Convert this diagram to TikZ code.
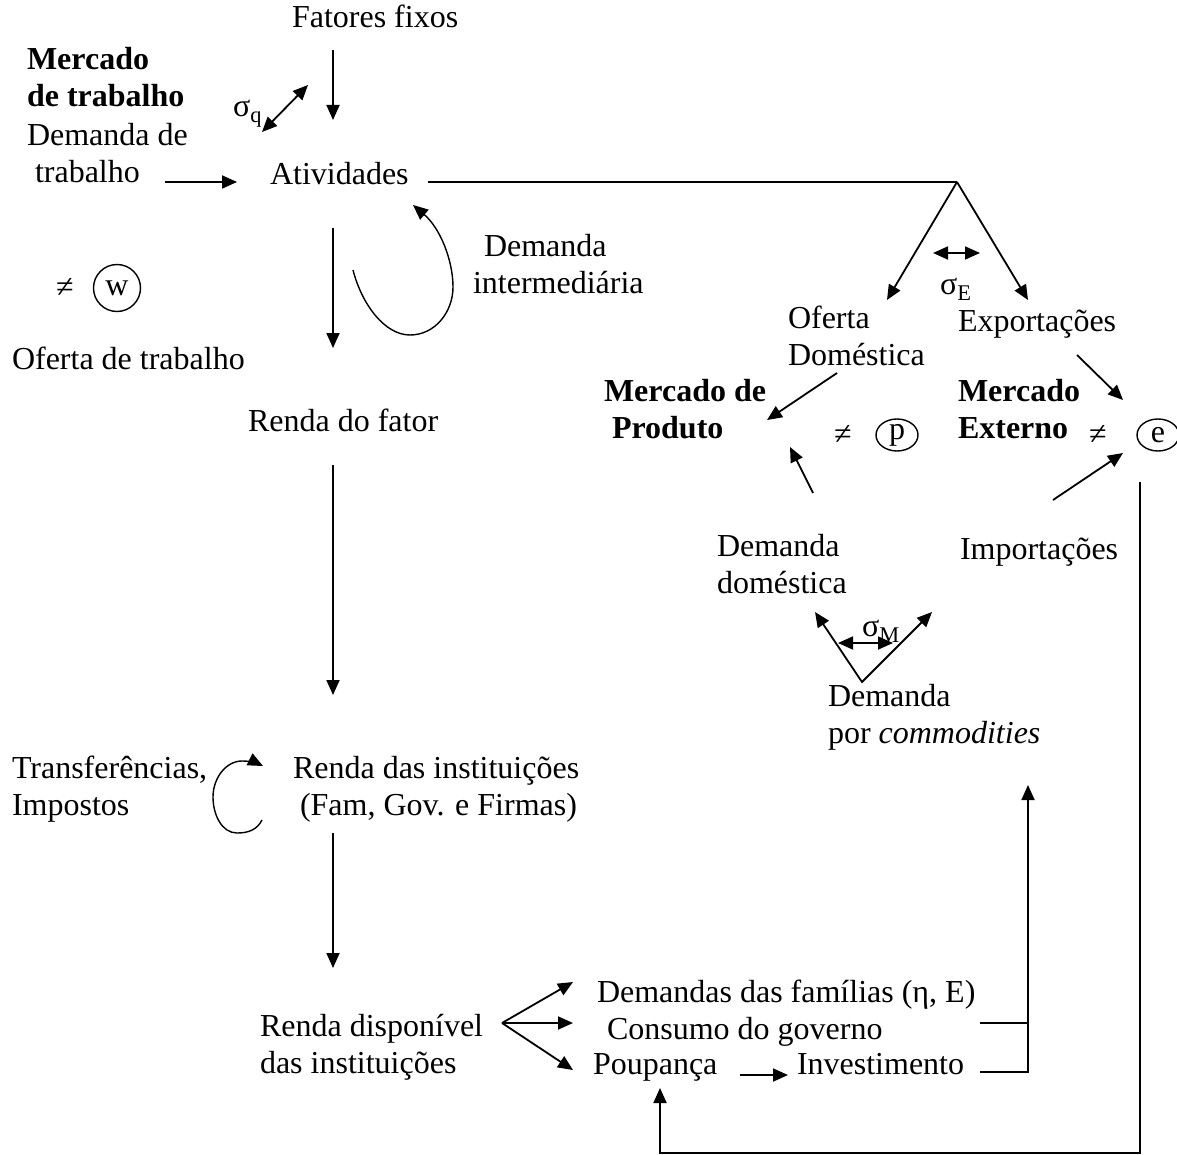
\documentclass[tikz,border=0pt]{standalone}
\usepackage{fontspec}
\setmainfont{Liberation Serif}
\usetikzlibrary{arrows.meta,shapes.geometric}
\tikzset{
	every path/.style = {line width=0.9pt},
	every node/.style = {inner sep=0pt, outer sep=0pt, font=\fontsize{16}{18.5}\selectfont},
	txt/.style = {anchor=north west, align=left, execute at begin node=\strut, execute at end node=\strut},
	circ/.style = {draw, circle, line width=0.7pt, minimum size=23.5pt},
	oval/.style = {draw, ellipse, line width=0.7pt, minimum width=21pt, minimum height=16pt},
	thinline/.style = {line width=0.7pt}
}
\begin{document}
\begin{tikzpicture}[x=0.5pt, y=-0.5pt, >={Triangle[length=7.5pt,width=6.5pt]}]
	\useasboundingbox (0,0) rectangle (1177,1155);
	\node[txt] (fixos) at (292,2) {Fatores fixos};
	\node[txt] (mtrab) at (27,47) {\textbf{Mercado}\\\textbf{de trabalho}};
	\node[txt] (dtrab) at (27,123) {Demanda de\\\hspace*{4pt}trabalho};
	\node[txt] (ativ) at (270,159) {Atividades};
	\node[txt] (sigq) at (233,91) {σ\textsubscript{q}};
	\node[txt] (dint) at (473,234) {\hspace*{5.5pt}Demanda\\intermediária};
	\node (neqw) at (65,288) {≠};
	\node[circ] (w) at (117,288) {w};
	\node[txt] (oftrab) at (12,344) {Oferta de trabalho};
	\node[txt] (rfator) at (248,406) {Renda do fator};
	\node[txt] (ofdom) at (788,306) {Oferta\\Doméstica};
	\node[txt] (export) at (958,306) {Exportações};
	\node[txt] (sigE) at (940,269) {σ\textsubscript{E}};
	\node[txt] (mprod) at (604,379) {\textbf{Mercado de}\\\hspace*{4pt}\textbf{Produto}};
	\node (neqp) at (843,435) {≠};
	\node[oval] (p) at (897,435) {p};
	\node[txt] (mext) at (958,379) {\textbf{Mercado}\\\textbf{Externo}};
	\node (neqe) at (1098,435) {≠};
	\node[oval] (e) at (1158,435) {e};
	\node[txt] (ddom) at (717,534) {Demanda\\doméstica};
	\node[txt] (import) at (960,534) {Importações};
	\node[txt] (sigM) at (862,611) {σ\textsubscript{M}};
	\node[txt] (dcom) at (828,684) {Demanda\\por \textit{commodities}};
	\node[txt] (transf) at (12,756) {Transferências,\\Impostos};
	\node[txt] (rinst) at (293,756) {Renda das instituições\\\hspace*{3.5pt}(Fam, Gov. e Firmas)};
	\node[txt] (rdisp) at (260,1014) {Renda disponível\\das instituições};
	\node[txt] (dfam) at (597,977) {Demandas das famílias (η, E)};
	\node[txt] (cgov) at (607,1014) {Consumo do governo};
	\node[txt] (poup) at (593,1049) {Poupança};
	\node[txt] (invest) at (797,1049) {Investimento};

	\coordinate (fix1) at (333,50);
	\coordinate (fix2) at (333,120);
	\coordinate (sq1) at (262,132);
	\coordinate (sq2) at (308,85);
	\coordinate (dt1) at (165,182);
	\coordinate (dt2) at (237,182);
	\coordinate (at1) at (333,228);
	\coordinate (at2) at (333,348);
	\coordinate (li1) at (353,270);
	\coordinate (li2) at (413,205);
	\coordinate (at3) at (428,182);
	\coordinate (top) at (957,182);
	\coordinate (od1) at (887,300);
	\coordinate (ex1) at (1028,300);
	\coordinate (se1) at (933,253);
	\coordinate (se2) at (980,253);
	\coordinate (od2) at (837,373);
	\coordinate (mp1) at (767,420);
	\coordinate (ex2) at (1077,355);
	\coordinate (me1) at (1123,400);
	\coordinate (im1) at (1053,500);
	\coordinate (me2) at (1123,453);
	\coordinate (dd1) at (813,493);
	\coordinate (mp2) at (790,447);
	\coordinate (vb) at (862,682);
	\coordinate (vl) at (815,612);
	\coordinate (vr) at (932,612);
	\coordinate (sm1) at (838,643);
	\coordinate (sm2) at (893,643);
	\coordinate (rf1) at (333,465);
	\coordinate (rf2) at (333,695);
	\coordinate (tr1) at (262,820);
	\coordinate (tr2) at (263,766);
	\coordinate (ri1) at (333,833);
	\coordinate (ri2) at (333,968);
	\coordinate (rd) at (502,1023);
	\coordinate (df) at (573,982);
	\coordinate (cg) at (573,1023);
	\coordinate (pp) at (573,1070);
	\coordinate (pp1) at (740,1075);
	\coordinate (iv1) at (788,1075);
	\coordinate (cg2) at (980,1023);
	\coordinate (iv2) at (980,1072);
	\coordinate (br1) at (1028,1023);
	\coordinate (br2) at (1028,1072);
	\coordinate (dc) at (1028,785);
	\coordinate (fb1) at (1140,482);
	\coordinate (fb2) at (1140,1153);
	\coordinate (fb3) at (660,1153);
	\coordinate (pp2) at (660,1088);

	\draw[->] (fix1) -- (fix2);
	\draw[<->] (sq1) -- (sq2);
	\draw[->] (dt1) -- (dt2);
	\draw[->] (at1) -- (at2);
	\draw[->, thinline] (li1) .. controls (362,305) and (385,335) .. (410,335)
		.. controls (435,335) and (453,312) .. (453,287)
		.. controls (453,260) and (440,228) .. (li2);
	\draw (at3) -- (top);
	\draw[->] (top) -- (od1);
	\draw[->] (top) -- (ex1);
	\draw[<->] (se1) -- (se2);
	\draw[->] (od2) -- (mp1);
	\draw[->] (ex2) -- (me1);
	\draw[->] (im1) -- (me2);
	\draw[->] (dd1) -- (mp2);
	\draw[<->] (vl) -- (vb) -- (vr);
	\draw[<->] (sm1) -- (sm2);
	\draw[->] (rf1) -- (rf2);
	\draw[->, thinline] (tr1) .. controls (257,830) and (248,833) .. (237,833)
		.. controls (222,833) and (213,815) .. (213,797)
		.. controls (213,778) and (226,761) .. (242,761)
		.. controls (250,761) and (257,763) .. (tr2);
	\draw[->] (ri1) -- (ri2);
	\draw[->] (rd) -- (df);
	\draw[->] (rd) -- (cg);
	\draw[->] (rd) -- (pp);
	\draw[->] (pp1) -- (iv1);
	\draw (cg2) -- (br1);
	\draw (iv2) -- (br2) -- (br1);
	\draw[->] (br1) -- (dc);
	\draw[->] (fb1) -- (fb2) -- (fb3) -- (pp2);
\end{tikzpicture}
\end{document}
